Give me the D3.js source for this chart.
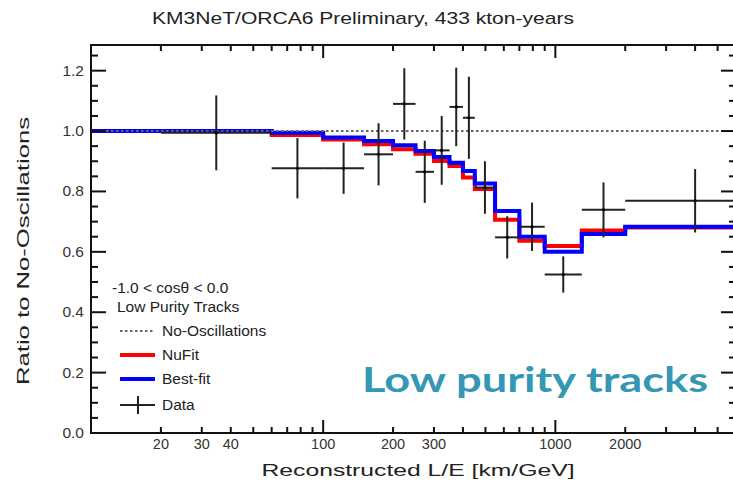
<!DOCTYPE html>
<html>
<head>
<meta charset="utf-8">
<script src="https://cdn.jsdelivr.net/npm/d3@7"></script>
<style>
  body { margin: 0; background: #fff; }
  svg { display: block; font-family: "Liberation Sans", Arial, sans-serif; }
</style>
</head>
<body>
<svg id="chart" width="733" height="487"></svg>
<script>
// Data bins (L/E in km/GeV) and measured ratio with its error
var dataEdges = [20, 60, 100, 150, 200, 250, 300, 350, 400, 450, 550, 700, 900, 1300, 2000, 8000];
var dataRatio = [0.994, 0.877, 0.877, 0.923, 1.090, 0.865, 0.936, 1.080, 1.044, 0.813, 0.648, 0.683, 0.525, 0.739, 0.769];
var dataErr   = [0.124, 0.100, 0.085, 0.103, 0.118, 0.103, 0.114, 0.130, 0.136, 0.087, 0.070, 0.080, 0.060, 0.091, 0.105];

// Model histograms
var curveEdges = [10, 60, 100, 150, 200, 250, 300, 350, 400, 450, 550, 700, 900, 1300, 2000, 8000];
var nufit   = [1.000, 0.987, 0.972, 0.956, 0.940, 0.925, 0.901, 0.884, 0.846, 0.808, 0.706, 0.637, 0.619, 0.671, 0.681];
var bestfit = [1.000, 0.994, 0.979, 0.967, 0.953, 0.934, 0.914, 0.895, 0.868, 0.826, 0.735, 0.650, 0.600, 0.659, 0.683];

var xTickLabels = [20, 30, 40, 100, 200, 300, 1000, 2000];
var xMinorTicks = [20, 30, 40, 50, 60, 70, 80, 90, 200, 300, 400, 500, 600, 700, 800, 900, 2000, 3000, 4000, 5000];
var xMajorTicks = [100, 1000];
var yTickLabels = [0, 0.2, 0.4, 0.6, 0.8, 1.0, 1.2];
var yMinorTicks = d3.range(0.05, 1.28, 0.05);

var legendItems = ['No-Oscillations', 'NuFit', 'Best-fit', 'Data'];

var svg = d3.select('#chart');

var x = d3.scaleLog().domain([10, 6000]).range([91, 736]);
var y = d3.scaleLinear().domain([0, 1.285]).range([433, 45]);

var pLeft = x.range()[0], pRight = x.range()[1];
var pTop = y.range()[1], pBottom = y.range()[0];

svg.append('defs').append('clipPath').attr('id', 'plotClip')
  .append('rect').attr('x', pLeft).attr('y', pTop)
  .attr('width', pRight - pLeft).attr('height', pBottom - pTop);

// Title
svg.append('text')
  .attr('x', 363).attr('y', 24)
  .attr('text-anchor', 'middle')
  .attr('textLength', 422).attr('lengthAdjust', 'spacingAndGlyphs')
  .style('font-size', '17px').style('fill', '#222')
  .text('KM3NeT/ORCA6 Preliminary, 433 kton-years');

var plot = svg.append('g').attr('clip-path', 'url(#plotClip)');

// step path for a histogram
function stepPath(edges, vals) {
  var pts = [];
  vals.forEach(function (v, i) {
    pts.push([x(edges[i]), y(v)]);
    pts.push([x(edges[i + 1]), y(v)]);
  });
  return d3.line()(pts);
}

plot.append('path')
  .attr('d', stepPath(curveEdges, nufit))
  .attr('fill', 'none').attr('stroke', '#ff0000').attr('stroke-width', 4);

plot.append('path')
  .attr('d', stepPath(curveEdges, bestfit))
  .attr('fill', 'none').attr('stroke', '#0000ff').attr('stroke-width', 4);

// No-oscillation reference
plot.append('line')
  .attr('x1', pLeft).attr('x2', pRight)
  .attr('y1', y(1)).attr('y2', y(1))
  .attr('stroke', '#666').attr('stroke-width', 2)
  .attr('stroke-dasharray', '2.5,2.5');

// Data points with error bars
var pts = dataRatio.map(function (v, i) {
  return { lo: dataEdges[i], hi: dataEdges[i + 1], v: v, e: dataErr[i] };
});

var g = plot.selectAll('.pt').data(pts).enter().append('g').attr('class', 'pt');
g.append('line')
  .attr('x1', d => x(d.lo)).attr('x2', d => x(d.hi))
  .attr('y1', d => y(d.v)).attr('y2', d => y(d.v))
  .attr('stroke', '#222').attr('stroke-width', 2);
g.append('line')
  .attr('x1', d => x(Math.sqrt(d.lo * d.hi))).attr('x2', d => x(Math.sqrt(d.lo * d.hi)))
  .attr('y1', d => y(d.v + d.e)).attr('y2', d => y(d.v - d.e))
  .attr('stroke', '#222').attr('stroke-width', 2);
g.append('circle')
  .attr('cx', d => x(Math.sqrt(d.lo * d.hi))).attr('cy', d => y(d.v))
  .attr('r', 1.6).attr('fill', '#000');

// Frame and ticks on all four sides
var axes = svg.append('g').attr('stroke', '#111').attr('stroke-width', 2);
axes.append('rect')
  .attr('x', pLeft).attr('y', pTop)
  .attr('width', pRight - pLeft).attr('height', pBottom - pTop)
  .attr('fill', 'none');

function xTicks(vals, len) {
  vals.forEach(function (v) {
    axes.append('line').attr('x1', x(v)).attr('x2', x(v)).attr('y1', pBottom).attr('y2', pBottom - len);
    axes.append('line').attr('x1', x(v)).attr('x2', x(v)).attr('y1', pTop).attr('y2', pTop + len);
  });
}
xTicks(xMinorTicks, 6);
xTicks(xMajorTicks, 13);

function yTicks(vals, len) {
  vals.forEach(function (v) {
    axes.append('line').attr('x1', pLeft).attr('x2', pLeft + len).attr('y1', y(v)).attr('y2', y(v));
    axes.append('line').attr('x1', pRight).attr('x2', pRight - len).attr('y1', y(v)).attr('y2', y(v));
  });
}
yTicks(yMinorTicks.filter(v => Math.abs(v * 5 - Math.round(v * 5)) > 0.01), 7);
yTicks(yTickLabels, 15);

// Tick labels
svg.selectAll('.ylab').data(yTickLabels).enter().append('text')
  .attr('x', 84).attr('y', d => y(d) + 5)
  .attr('text-anchor', 'end')
  .style('font-size', '15.5px').style('fill', '#333')
  .text(d => d.toFixed(1));

svg.selectAll('.xlab').data(xTickLabels).enter().append('text')
  .attr('x', d => x(d)).attr('y', 449)
  .attr('text-anchor', 'middle')
  .style('font-size', '14.5px').style('fill', '#333')
  .text(d => d);

// Axis titles
svg.append('text')
  .attr('x', 418).attr('y', 476)
  .attr('text-anchor', 'middle')
  .attr('textLength', 313).attr('lengthAdjust', 'spacingAndGlyphs')
  .style('font-size', '17px').style('fill', '#222')
  .text('Reconstructed L/E [km/GeV]');

svg.append('text')
  .attr('transform', 'translate(29,251) rotate(-90)')
  .attr('text-anchor', 'middle')
  .attr('textLength', 268).attr('lengthAdjust', 'spacingAndGlyphs')
  .style('font-size', '17px').style('fill', '#222')
  .text('Ratio to No-Oscillations');

// Legend
var leg = svg.append('g').style('font-size', '15.5px').style('fill', '#222');
leg.append('text').attr('x', 112).attr('y', 293).text('-1.0 < cos\u03B8 < 0.0');
leg.append('text').attr('x', 117).attr('y', 312).text('Low Purity Tracks');

var legY = [331, 355, 379, 405];
legendItems.forEach(function (name, i) {
  var ly = legY[i];
  if (name === 'No-Oscillations') {
    leg.append('line').attr('x1', 120).attr('x2', 155).attr('y1', ly).attr('y2', ly)
      .attr('stroke', '#666').attr('stroke-width', 2).attr('stroke-dasharray', '2.5,2.5');
  } else if (name === 'Data') {
    leg.append('line').attr('x1', 120).attr('x2', 155).attr('y1', ly).attr('y2', ly)
      .attr('stroke', '#222').attr('stroke-width', 2);
    leg.append('line').attr('x1', 138).attr('x2', 138).attr('y1', ly - 9).attr('y2', ly + 9)
      .attr('stroke', '#222').attr('stroke-width', 2);
  } else {
    leg.append('line').attr('x1', 120).attr('x2', 155).attr('y1', ly).attr('y2', ly)
      .attr('stroke', name === 'NuFit' ? '#ff0000' : '#0000ff').attr('stroke-width', 4);
  }
  leg.append('text').attr('x', 162).attr('y', ly + 5).text(name);
});

// Overlay caption
svg.append('text')
  .attr('x', 362).attr('y', 392)
  .attr('textLength', 346).attr('lengthAdjust', 'spacingAndGlyphs')
  .style('font-family', 'Lato, "Open Sans", sans-serif')
  .style('font-weight', 'bold').style('font-size', '34px')
  .style('fill', '#3497b4')
  .text('Low purity tracks');
</script>
</body>
</html>
